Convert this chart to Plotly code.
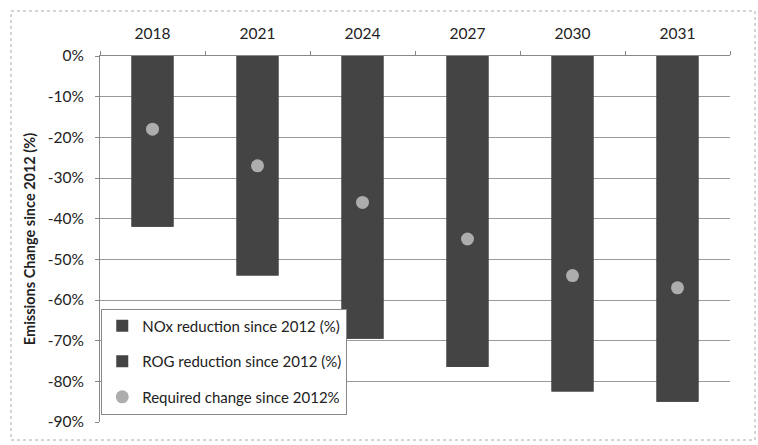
import plotly.graph_objects as go

years = ["2018", "2021", "2024", "2027", "2030", "2031"]
nox_reduction = [-42, -54, -69.5, -76.5, -82.5, -85]
rog_reduction = [-42, -54, -69.5, -76.5, -82.5, -85]
required_change = [-18, -27, -36, -45, -54, -57]
y_ticks = [0, -10, -20, -30, -40, -50, -60, -70, -80, -90]
y_tick_labels = [f"{v}%" for v in y_ticks]

FONT = "Lato, 'Open Sans', sans-serif"
BAR = "#444444"

fig = go.Figure()
fig.add_trace(go.Bar(x=years, y=nox_reduction, name="NOx reduction since 2012 (%)",
                     marker=dict(color=BAR, line=dict(width=0)), width=0.4,
                     legendgroup="a"))
fig.add_trace(go.Bar(x=years, y=rog_reduction, name="ROG reduction since 2012 (%)",
                     marker=dict(color=BAR, line=dict(width=0)), width=0.4,
                     legendgroup="b"))
fig.add_trace(go.Scatter(x=years, y=required_change, name="Required change since 2012%",
                         mode="markers", marker=dict(color="#adadad", size=13),
                         legendgroup="c"))

fig.update_layout(
    width=758, height=445,
    margin=dict(l=100, r=28, t=56, b=23),
    paper_bgcolor="white", plot_bgcolor="white",
    barmode="overlay",
    font=dict(family=FONT, size=15, color="#222222"),
    showlegend=True,
    legend=dict(x=0.002, y=0.31, xanchor="left", yanchor="top",
                bgcolor="white", bordercolor="#888888", borderwidth=1,
                font=dict(family=FONT, size=15, color="#222222"),
                traceorder="grouped", tracegroupgap=13, itemwidth=30),
    xaxis=dict(side="top", type="category", showline=True, linecolor="#888888",
               ticks="outside", tickson="boundaries", ticklen=4, tickcolor="#888888",
               tickfont=dict(size=15.5), showgrid=False, ticklabelstandoff=10),
    yaxis=dict(range=[-90, 0], tickvals=y_ticks, ticktext=y_tick_labels,
               showline=True, linecolor="#888888", ticks="outside", ticklen=4,
               tickcolor="#888888", gridcolor="#9a9a9a", gridwidth=1,
               tickfont=dict(size=15.5), zeroline=False, ticklabelstandoff=8,
               title=dict(text="<b>Emissions Change since 2012 (%)</b>",
                          font=dict(size=14.5), standoff=8)),
    shapes=[dict(type="rect", xref="paper", yref="paper",
                 x0=-89/630, x1=(755-100)/630, y0=-(440-422)/366, y1=(422-11)/366,
                 line=dict(color="#aaaaaa", width=1, dash="dot"), layer="below")],
)

fig.write_html("out.html")
